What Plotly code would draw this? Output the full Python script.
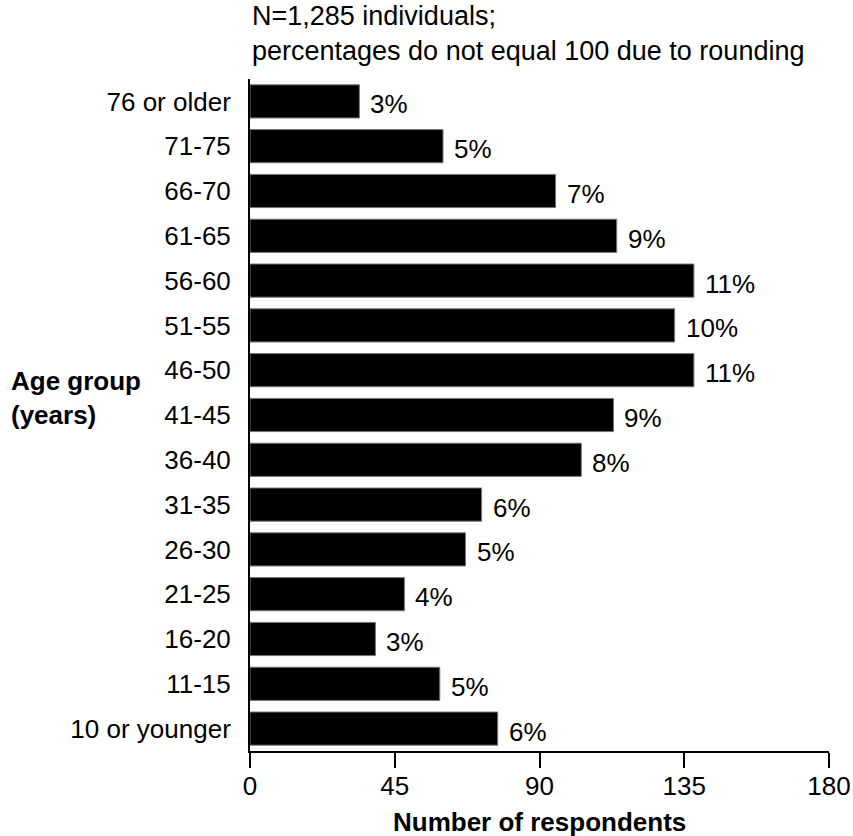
import plotly.graph_objects as go

age_groups = ["76 or older", "71-75", "66-70", "61-65", "56-60", "51-55", "46-50",
              "41-45", "36-40", "31-35", "26-30", "21-25", "16-20", "11-15", "10 or younger"]
respondents = [34, 60, 95, 114, 138, 132, 138, 113, 103, 72, 67, 48, 39, 59, 77]
percent_labels = ["3%", "5%", "7%", "9%", "11%", "10%", "11%", "9%", "8%", "6%", "5%", "4%", "3%", "5%", "6%"]
x_ticks = [0, 45, 90, 135, 180]

FONT = "Liberation Sans, Arial, Helvetica, sans-serif"
FS = 26

fig = go.Figure()
fig.add_trace(go.Bar(
    x=respondents, y=age_groups, orientation="h",
    marker=dict(color="black", line=dict(color="#777777", width=1)),
    width=0.74, hoverinfo="skip",
))

for v, cat, lab in zip(respondents, age_groups, percent_labels):
    fig.add_annotation(x=v, y=cat, text=lab, showarrow=False, xanchor="left",
                       yanchor="middle", xshift=9, yshift=-3,
                       font=dict(family=FONT, size=FS, color="black"))

fig.add_annotation(xref="paper", yref="paper", x=0, y=1, yshift=80, xanchor="left", yanchor="top",
                   align="left", showarrow=False,
                   text="N=1,285 individuals;<br>percentages do not equal 100 due to rounding",
                   font=dict(family=FONT, size=27, color="black"))

fig.add_annotation(xref="paper", yref="paper", x=-0.416, y=0.526, xanchor="left", yanchor="middle",
                   align="left", showarrow=False, text="<b>Age group<br>(years)</b>",
                   font=dict(family=FONT, size=FS, color="black"))

fig.add_annotation(xref="paper", yref="paper", x=0.5, y=-0.1055, xanchor="center", yanchor="middle",
                   showarrow=False, text="<b>Number of respondents</b>",
                   font=dict(family=FONT, size=FS, color="black"))

fig.update_layout(
    width=853, height=836,
    margin=dict(l=250, r=24, t=79, b=85, autoexpand=False),
    paper_bgcolor="white", plot_bgcolor="white",
    showlegend=False,
    font=dict(family=FONT, size=FS, color="black"),
    bargap=0.26,
)
fig.update_xaxes(range=[0, 180], tickvals=x_ticks, ticktext=[str(t) for t in x_ticks],
                 automargin=False,
                 showgrid=False, zeroline=False, showline=True, linecolor="black", linewidth=2,
                 ticks="outside", ticklen=15, tickwidth=2, tickcolor="black",
                 ticklabelstandoff=-4,
                 tickfont=dict(family=FONT, size=FS, color="black"))
fig.update_yaxes(categoryorder="array", categoryarray=age_groups, range=[14.5, -0.5],
                 automargin=False,
                 showgrid=False, zeroline=False, showline=True, linecolor="black", linewidth=2,
                 ticks="", ticklabelstandoff=12,
                 tickfont=dict(family=FONT, size=FS, color="black"))

fig.write_html("out.html", config={"displayModeBar": False},
               post_script="document.body.style.margin='0';document.body.style.overflow='hidden';")
